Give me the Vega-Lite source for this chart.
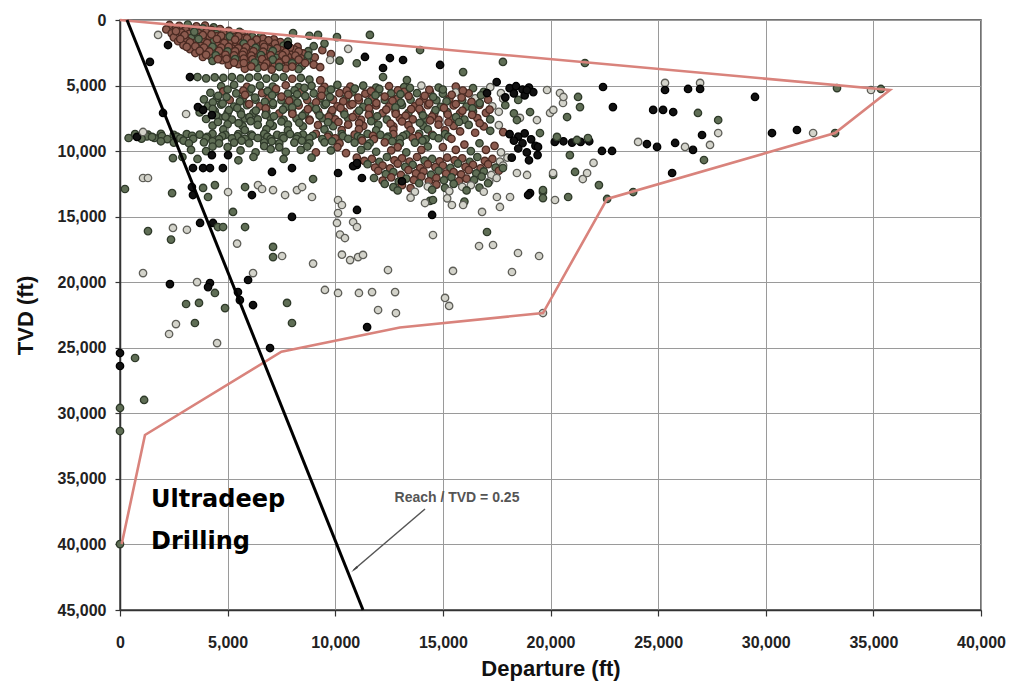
{
  "$schema": "https://vega.github.io/schema/vega-lite/v6.json",
  "width": 861,
  "height": 590,
  "autosize": {"type": "none"},
  "padding": {"left": 120, "top": 20, "right": 31, "bottom": 71},
  "background": "white",
  "config": {
    "view": {"stroke": "#444", "strokeWidth": 1.5},
    "axis": {
      "labelFont": "Liberation Sans", "labelFontWeight": "bold", "labelFontSize": 16, "labelColor": "#222",
      "titleFont": "Liberation Sans", "titleFontWeight": "bold", "titleFontSize": 22, "titleColor": "#111",
      "gridColor": "#9a9a9a", "gridWidth": 1, "gridOpacity": 1,
      "domainColor": "#333", "domainWidth": 1.5, "tickColor": "#333", "tickWidth": 1.2
    }
  },
  "datasets": {
    "pts": [
      {"x":2300,"y":380,"c":"r"},{"x":2750,"y":450,"c":"r"},{"x":3150,"y":350,"c":"g"},{"x":3550,"y":480,"c":"r"},{"x":3950,"y":420,"c":"r"},{"x":4350,"y":560,"c":"g"},
      {"x":2150,"y":720,"c":"r"},{"x":2600,"y":650,"c":"r"},{"x":3050,"y":780,"c":"r"},{"x":3400,"y":700,"c":"r"},{"x":3850,"y":640,"c":"g"},{"x":4250,"y":760,"c":"r"},{"x":4650,"y":690,"c":"r"},{"x":5050,"y":820,"c":"r"},{"x":5550,"y":900,"c":"g"},
      {"x":2400,"y":1020,"c":"r"},{"x":2850,"y":960,"c":"r"},{"x":3200,"y":1080,"c":"r"},{"x":3650,"y":1000,"c":"r"},{"x":4000,"y":940,"c":"r"},{"x":4450,"y":1050,"c":"g"},{"x":4800,"y":990,"c":"r"},{"x":5250,"y":1100,"c":"r"},{"x":5650,"y":1020,"c":"r"},{"x":6050,"y":1150,"c":"r"},{"x":6550,"y":1240,"c":"g"},
      {"x":2500,"y":1320,"c":"r"},{"x":2950,"y":1260,"c":"r"},{"x":3300,"y":1380,"c":"g"},{"x":3700,"y":1300,"c":"r"},{"x":4150,"y":1350,"c":"r"},{"x":4500,"y":1250,"c":"r"},{"x":4950,"y":1400,"c":"r"},{"x":5300,"y":1320,"c":"r"},{"x":5750,"y":1380,"c":"r"},{"x":6150,"y":1290,"c":"g"},{"x":6650,"y":1420,"c":"r"},{"x":7150,"y":1480,"c":"r"},
      {"x":2700,"y":1620,"c":"r"},{"x":3100,"y":1560,"c":"r"},{"x":3550,"y":1680,"c":"r"},{"x":3900,"y":1600,"c":"r"},{"x":4350,"y":1650,"c":"g"},{"x":4700,"y":1580,"c":"r"},{"x":5150,"y":1700,"c":"r"},{"x":5500,"y":1620,"c":"r"},{"x":5950,"y":1660,"c":"r"},{"x":6300,"y":1590,"c":"r"},{"x":6850,"y":1720,"c":"g"},{"x":7450,"y":1680,"c":"r"},
      {"x":2950,"y":1920,"c":"r"},{"x":3300,"y":1860,"c":"r"},{"x":3750,"y":1980,"c":"r"},{"x":4100,"y":1900,"c":"r"},{"x":4550,"y":1950,"c":"r"},{"x":4900,"y":1870,"c":"g"},{"x":5350,"y":2000,"c":"r"},{"x":5700,"y":1910,"c":"r"},{"x":6150,"y":1980,"c":"r"},{"x":6500,"y":1890,"c":"r"},{"x":7050,"y":2020,"c":"r"},{"x":7600,"y":1950,"c":"g"},{"x":8250,"y":2050,"c":"r"},
      {"x":3250,"y":2220,"c":"r"},{"x":3600,"y":2160,"c":"g"},{"x":4050,"y":2280,"c":"r"},{"x":4400,"y":2200,"c":"r"},{"x":4850,"y":2250,"c":"r"},{"x":5200,"y":2170,"c":"r"},{"x":5650,"y":2300,"c":"r"},{"x":6000,"y":2210,"c":"g"},{"x":6450,"y":2280,"c":"r"},{"x":6900,"y":2190,"c":"r"},{"x":7500,"y":2320,"c":"r"},{"x":8100,"y":2250,"c":"r"},{"x":8750,"y":2380,"c":"g"},
      {"x":3500,"y":2520,"c":"r"},{"x":3950,"y":2460,"c":"r"},{"x":4300,"y":2580,"c":"g"},{"x":4750,"y":2500,"c":"r"},{"x":5100,"y":2550,"c":"r"},{"x":5550,"y":2470,"c":"r"},{"x":5900,"y":2600,"c":"r"},{"x":6350,"y":2510,"c":"r"},{"x":6800,"y":2580,"c":"g"},{"x":7350,"y":2490,"c":"r"},{"x":7900,"y":2620,"c":"r"},{"x":8500,"y":2550,"c":"r"},
      {"x":3850,"y":2820,"c":"r"},{"x":4200,"y":2760,"c":"r"},{"x":4650,"y":2880,"c":"r"},{"x":5000,"y":2800,"c":"g"},{"x":5450,"y":2850,"c":"r"},{"x":5800,"y":2770,"c":"r"},{"x":6250,"y":2900,"c":"r"},{"x":6700,"y":2810,"c":"r"},{"x":7250,"y":2880,"c":"g"},{"x":7800,"y":2790,"c":"r"},{"x":8400,"y":2920,"c":"r"},{"x":9050,"y":2850,"c":"r"},
      {"x":4300,"y":3120,"c":"g"},{"x":4750,"y":3060,"c":"r"},{"x":5100,"y":3180,"c":"r"},{"x":5550,"y":3100,"c":"r"},{"x":5950,"y":3150,"c":"r"},{"x":6400,"y":3070,"c":"g"},{"x":6950,"y":3200,"c":"r"},{"x":7500,"y":3110,"c":"r"},{"x":8100,"y":3180,"c":"r"},{"x":8700,"y":3090,"c":"g"},
      {"x":5050,"y":3420,"c":"r"},{"x":5500,"y":3360,"c":"r"},{"x":6050,"y":3480,"c":"g"},{"x":6600,"y":3400,"c":"r"},{"x":7200,"y":3450,"c":"r"},{"x":7800,"y":3370,"c":"r"},{"x":8450,"y":3500,"c":"g"},
      {"x":5800,"y":3720,"c":"r"},{"x":6400,"y":3660,"c":"g"},{"x":7050,"y":3780,"c":"r"},{"x":7700,"y":3700,"c":"r"},{"x":8300,"y":3750,"c":"g"},
      {"x":2600,"y":850,"c":"r"},{"x":3000,"y":1150,"c":"r"},{"x":3450,"y":900,"c":"g"},{"x":3850,"y":1150,"c":"r"},{"x":4250,"y":1100,"c":"r"},{"x":4700,"y":1200,"c":"r"},{"x":5100,"y":1250,"c":"g"},{"x":5500,"y":1250,"c":"r"},{"x":5900,"y":1400,"c":"r"},{"x":6350,"y":1500,"c":"r"},{"x":6900,"y":1550,"c":"r"},
      {"x":2800,"y":1450,"c":"r"},{"x":3250,"y":1700,"c":"r"},{"x":3650,"y":1450,"c":"g"},{"x":4050,"y":1750,"c":"r"},{"x":4500,"y":1450,"c":"r"},{"x":4850,"y":1750,"c":"r"},{"x":5350,"y":1500,"c":"r"},{"x":5750,"y":1800,"c":"g"},{"x":6100,"y":1750,"c":"r"},{"x":6650,"y":1850,"c":"r"},{"x":7200,"y":1800,"c":"r"},{"x":7800,"y":1650,"c":"g"},
      {"x":3100,"y":2050,"c":"r"},{"x":3500,"y":2000,"c":"r"},{"x":3900,"y":2100,"c":"r"},{"x":4300,"y":2050,"c":"g"},{"x":4700,"y":2100,"c":"r"},{"x":5050,"y":2050,"c":"r"},{"x":5500,"y":2150,"c":"r"},{"x":5850,"y":2080,"c":"r"},{"x":6300,"y":2120,"c":"g"},{"x":6700,"y":2050,"c":"r"},{"x":7300,"y":2150,"c":"r"},{"x":7900,"y":2100,"c":"r"},
      {"x":3700,"y":2350,"c":"r"},{"x":4150,"y":2400,"c":"r"},{"x":4600,"y":2350,"c":"r"},{"x":5000,"y":2400,"c":"g"},{"x":5350,"y":2380,"c":"r"},{"x":5750,"y":2420,"c":"r"},{"x":6200,"y":2380,"c":"r"},{"x":6650,"y":2420,"c":"r"},{"x":7100,"y":2360,"c":"g"},{"x":7700,"y":2450,"c":"r"},{"x":8300,"y":2400,"c":"r"},
      {"x":4000,"y":2650,"c":"r"},{"x":4450,"y":2700,"c":"g"},{"x":4900,"y":2650,"c":"r"},{"x":5300,"y":2700,"c":"r"},{"x":5700,"y":2650,"c":"r"},{"x":6100,"y":2720,"c":"r"},{"x":6550,"y":2680,"c":"g"},{"x":7000,"y":2700,"c":"r"},{"x":7550,"y":2680,"c":"r"},{"x":8150,"y":2720,"c":"r"},{"x":8750,"y":2700,"c":"g"},
      {"x":4550,"y":2980,"c":"r"},{"x":4950,"y":2960,"c":"r"},{"x":5350,"y":2980,"c":"g"},{"x":5750,"y":2950,"c":"r"},{"x":6150,"y":3000,"c":"r"},{"x":6600,"y":2980,"c":"r"},{"x":7100,"y":3020,"c":"g"},{"x":7700,"y":2990,"c":"r"},{"x":8300,"y":3020,"c":"r"},
      {"x":5300,"y":3250,"c":"r"},{"x":5750,"y":3280,"c":"r"},{"x":6250,"y":3250,"c":"g"},{"x":6800,"y":3300,"c":"r"},{"x":7400,"y":3270,"c":"r"},{"x":8000,"y":3300,"c":"g"},{"x":8600,"y":3280,"c":"r"},
      {"x":6100,"y":3550,"c":"r"},{"x":6700,"y":3560,"c":"r"},{"x":7400,"y":3580,"c":"g"},{"x":8000,"y":3560,"c":"r"},{"x":9000,"y":3400,"c":"r"},{"x":9400,"y":2300,"c":"r"},{"x":9000,"y":2000,"c":"g"},
      {"x":9500,"y":1800,"c":"g"},{"x":9800,"y":2600,"c":"r"},{"x":10200,"y":3100,"c":"g"},{"x":9300,"y":3600,"c":"r"},{"x":10600,"y":2200,"c":"o"},{"x":11000,"y":3300,"c":"g"},{"x":8800,"y":1200,"c":"g"},
      {"x":3600,"y":4350,"c":"g"},{"x":4000,"y":4450,"c":"g"},{"x":4400,"y":4380,"c":"g"},{"x":4800,"y":4420,"c":"g"},{"x":5200,"y":4350,"c":"g"},{"x":5600,"y":4460,"c":"g"},{"x":6000,"y":4400,"c":"g"},{"x":6400,"y":4330,"c":"g"},{"x":6800,"y":4470,"c":"g"},{"x":7200,"y":4400,"c":"g"},{"x":7600,"y":4350,"c":"g"},{"x":8000,"y":4480,"c":"r"},{"x":8400,"y":4420,"c":"g"},{"x":8800,"y":4550,"c":"g"},{"x":9300,"y":4600,"c":"r"},
      {"x":4700,"y":5050,"c":"g"},{"x":5300,"y":4950,"c":"g"},{"x":5900,"y":5100,"c":"r"},{"x":6500,"y":5000,"c":"g"},{"x":7100,"y":5080,"c":"g"},{"x":7700,"y":4980,"c":"r"},{"x":8300,"y":5120,"c":"g"},{"x":8900,"y":5020,"c":"g"},{"x":9500,"y":5100,"c":"r"},{"x":10100,"y":4950,"c":"g"},{"x":10700,"y":5080,"c":"r"},{"x":11300,"y":5000,"c":"g"},{"x":11900,"y":5150,"c":"g"},{"x":12500,"y":5050,"c":"r"},{"x":13200,"y":5120,"c":"g"},{"x":14000,"y":5000,"c":"o"},{"x":14800,"y":5150,"c":"g"},{"x":15600,"y":5080,"c":"r"},{"x":16400,"y":5200,"c":"g"},{"x":17200,"y":5120,"c":"o"},
      {"x":4200,"y":5550,"c":"g"},{"x":4800,"y":5450,"c":"r"},{"x":5400,"y":5600,"c":"g"},{"x":6000,"y":5500,"c":"g"},{"x":6600,"y":5580,"c":"r"},{"x":7200,"y":5480,"c":"g"},{"x":7800,"y":5620,"c":"g"},{"x":8400,"y":5520,"c":"r"},{"x":9000,"y":5600,"c":"g"},{"x":9600,"y":5480,"c":"g"},{"x":10200,"y":5580,"c":"r"},{"x":10800,"y":5500,"c":"g"},{"x":11400,"y":5620,"c":"r"},{"x":12000,"y":5520,"c":"g"},{"x":12600,"y":5600,"c":"g"},{"x":13200,"y":5480,"c":"r"},{"x":13800,"y":5580,"c":"g"},{"x":14400,"y":5500,"c":"r"},{"x":15000,"y":5620,"c":"g"},{"x":15600,"y":5520,"c":"o"},{"x":16200,"y":5600,"c":"r"},{"x":16900,"y":5480,"c":"g"},{"x":17700,"y":5580,"c":"o"},
      {"x":3900,"y":6050,"c":"g"},{"x":4500,"y":5950,"c":"g"},{"x":5100,"y":6100,"c":"r"},{"x":5700,"y":6000,"c":"g"},{"x":6300,"y":6080,"c":"g"},{"x":6900,"y":5980,"c":"r"},{"x":7500,"y":6120,"c":"g"},{"x":8100,"y":6020,"c":"g"},{"x":8700,"y":6100,"c":"r"},{"x":9300,"y":5980,"c":"g"},{"x":9900,"y":6080,"c":"r"},{"x":10500,"y":6000,"c":"g"},{"x":11100,"y":6120,"c":"r"},{"x":11700,"y":6020,"c":"r"},{"x":12300,"y":6100,"c":"g"},{"x":12900,"y":5980,"c":"r"},{"x":13500,"y":6080,"c":"g"},{"x":14100,"y":6000,"c":"r"},{"x":14700,"y":6120,"c":"g"},{"x":15300,"y":6020,"c":"r"},{"x":15900,"y":6100,"c":"g"},{"x":16500,"y":5980,"c":"o"},{"x":17100,"y":6080,"c":"r"},{"x":17800,"y":6000,"c":"o"},{"x":18500,"y":6100,"c":"g"},
      {"x":4100,"y":6550,"c":"g"},{"x":4700,"y":6450,"c":"g"},{"x":5300,"y":6600,"c":"g"},{"x":5900,"y":6500,"c":"g"},{"x":6500,"y":6580,"c":"r"},{"x":7100,"y":6480,"c":"g"},{"x":7700,"y":6620,"c":"g"},{"x":8300,"y":6520,"c":"r"},{"x":8900,"y":6600,"c":"g"},{"x":9500,"y":6480,"c":"g"},{"x":10100,"y":6580,"c":"r"},{"x":10700,"y":6500,"c":"r"},{"x":11300,"y":6620,"c":"g"},{"x":11900,"y":6520,"c":"r"},{"x":12500,"y":6600,"c":"r"},{"x":13100,"y":6480,"c":"g"},{"x":13700,"y":6580,"c":"r"},{"x":14300,"y":6500,"c":"r"},{"x":14900,"y":6620,"c":"g"},{"x":15500,"y":6520,"c":"r"},{"x":16100,"y":6600,"c":"g"},{"x":16700,"y":6480,"c":"r"},{"x":17300,"y":6580,"c":"o"},{"x":17900,"y":6500,"c":"g"},
      {"x":3700,"y":7050,"c":"g"},{"x":4400,"y":6950,"c":"g"},{"x":5000,"y":7100,"c":"g"},{"x":5600,"y":7000,"c":"g"},{"x":6200,"y":7080,"c":"g"},{"x":6800,"y":6980,"c":"g"},{"x":7400,"y":7120,"c":"r"},{"x":8000,"y":7020,"c":"g"},{"x":8600,"y":7100,"c":"g"},{"x":9200,"y":6980,"c":"r"},{"x":9800,"y":7080,"c":"g"},{"x":10400,"y":7000,"c":"r"},{"x":11000,"y":7120,"c":"r"},{"x":11600,"y":7020,"c":"g"},{"x":12200,"y":7100,"c":"r"},{"x":12800,"y":6980,"c":"r"},{"x":13400,"y":7080,"c":"g"},{"x":14000,"y":7000,"c":"r"},{"x":14600,"y":7120,"c":"r"},{"x":15200,"y":7020,"c":"g"},{"x":15800,"y":7100,"c":"r"},{"x":16400,"y":6980,"c":"g"},{"x":17000,"y":7080,"c":"r"},{"x":17600,"y":7000,"c":"o"},{"x":18300,"y":7120,"c":"g"},
      {"x":4000,"y":7550,"c":"g"},{"x":4600,"y":7450,"c":"g"},{"x":5200,"y":7600,"c":"g"},{"x":5800,"y":7500,"c":"g"},{"x":6400,"y":7580,"c":"g"},{"x":7000,"y":7480,"c":"g"},{"x":7600,"y":7620,"c":"g"},{"x":8200,"y":7520,"c":"g"},{"x":8800,"y":7600,"c":"r"},{"x":9400,"y":7480,"c":"g"},{"x":10000,"y":7580,"c":"r"},{"x":10600,"y":7500,"c":"g"},{"x":11200,"y":7620,"c":"r"},{"x":11800,"y":7520,"c":"r"},{"x":12400,"y":7600,"c":"g"},{"x":13000,"y":7480,"c":"r"},{"x":13600,"y":7580,"c":"r"},{"x":14200,"y":7500,"c":"g"},{"x":14800,"y":7620,"c":"r"},{"x":15400,"y":7520,"c":"r"},{"x":16000,"y":7600,"c":"g"},{"x":16600,"y":7480,"c":"r"},{"x":17200,"y":7580,"c":"g"},
      {"x":4300,"y":8050,"c":"g"},{"x":5000,"y":7950,"c":"g"},{"x":5700,"y":8100,"c":"g"},{"x":6400,"y":8000,"c":"g"},{"x":7100,"y":8080,"c":"g"},{"x":7800,"y":7980,"c":"g"},{"x":8500,"y":8120,"c":"g"},{"x":9200,"y":8020,"c":"r"},{"x":9900,"y":8100,"c":"g"},{"x":10600,"y":7980,"c":"r"},{"x":11300,"y":8080,"c":"r"},{"x":12000,"y":8000,"c":"g"},{"x":12700,"y":8120,"c":"r"},{"x":13400,"y":8020,"c":"r"},{"x":14100,"y":8100,"c":"g"},{"x":14800,"y":7980,"c":"r"},{"x":15500,"y":8080,"c":"r"},{"x":16200,"y":8000,"c":"g"},{"x":16900,"y":8120,"c":"r"},{"x":17600,"y":8020,"c":"o"},
      {"x":5000,"y":5300,"c":"g"},{"x":5730,"y":5390,"c":"r"},{"x":6110,"y":5230,"c":"g"},{"x":6860,"y":5430,"c":"g"},{"x":7250,"y":5260,"c":"r"},{"x":8110,"y":5360,"c":"g"},{"x":8570,"y":5180,"c":"g"},{"x":9370,"y":5320,"c":"r"},{"x":9800,"y":5300,"c":"g"},{"x":10530,"y":5390,"c":"r"},{"x":10910,"y":5230,"c":"g"},{"x":11660,"y":5430,"c":"r"},{"x":12050,"y":5260,"c":"g"},{"x":12910,"y":5360,"c":"r"},{"x":13470,"y":5180,"c":"g"},{"x":14370,"y":5320,"c":"r"},{"x":15000,"y":5300,"c":"g"},{"x":15930,"y":5390,"c":"r"},
      {"x":4560,"y":5780,"c":"g"},{"x":4950,"y":5870,"c":"g"},{"x":5810,"y":5710,"c":"r"},{"x":6270,"y":5910,"c":"g"},{"x":7070,"y":5740,"c":"g"},{"x":7500,"y":5840,"c":"r"},{"x":8230,"y":5660,"c":"g"},{"x":8610,"y":5800,"c":"g"},{"x":9360,"y":5780,"c":"r"},{"x":9750,"y":5870,"c":"g"},{"x":10610,"y":5710,"c":"r"},{"x":11070,"y":5910,"c":"r"},{"x":11870,"y":5740,"c":"g"},{"x":12300,"y":5840,"c":"r"},{"x":13030,"y":5660,"c":"g"},{"x":13410,"y":5800,"c":"r"},{"x":14160,"y":5780,"c":"r"},{"x":14550,"y":5870,"c":"g"},{"x":15410,"y":5710,"c":"r"},{"x":15870,"y":5910,"c":"r"},{"x":16770,"y":5740,"c":"g"},
      {"x":4310,"y":6280,"c":"g"},{"x":4770,"y":6370,"c":"g"},{"x":5570,"y":6210,"c":"g"},{"x":6000,"y":6410,"c":"r"},{"x":6730,"y":6240,"c":"g"},{"x":7110,"y":6340,"c":"g"},{"x":7860,"y":6160,"c":"r"},{"x":8250,"y":6300,"c":"g"},{"x":9110,"y":6280,"c":"r"},{"x":9570,"y":6370,"c":"g"},{"x":10370,"y":6210,"c":"r"},{"x":10800,"y":6410,"c":"r"},{"x":11530,"y":6240,"c":"g"},{"x":11910,"y":6340,"c":"r"},{"x":12660,"y":6160,"c":"r"},{"x":13050,"y":6300,"c":"g"},{"x":13910,"y":6280,"c":"r"},{"x":14370,"y":6370,"c":"r"},{"x":15170,"y":6210,"c":"g"},{"x":15600,"y":6410,"c":"r"},{"x":16330,"y":6240,"c":"r"},{"x":16710,"y":6340,"c":"g"},
      {"x":4310,"y":6780,"c":"g"},{"x":5060,"y":6870,"c":"g"},{"x":5450,"y":6710,"c":"g"},{"x":6310,"y":6910,"c":"g"},{"x":6770,"y":6740,"c":"r"},{"x":7570,"y":6840,"c":"g"},{"x":8000,"y":6660,"c":"g"},{"x":8730,"y":6800,"c":"r"},{"x":9110,"y":6780,"c":"g"},{"x":9860,"y":6870,"c":"r"},{"x":10250,"y":6710,"c":"r"},{"x":11110,"y":6910,"c":"g"},{"x":11570,"y":6740,"c":"r"},{"x":12370,"y":6840,"c":"r"},{"x":12800,"y":6660,"c":"g"},{"x":13530,"y":6800,"c":"r"},{"x":13910,"y":6780,"c":"r"},{"x":14660,"y":6870,"c":"g"},{"x":15050,"y":6710,"c":"r"},{"x":15910,"y":6910,"c":"r"},{"x":16370,"y":6740,"c":"g"},{"x":17170,"y":6840,"c":"r"},
      {"x":4470,"y":7280,"c":"g"},{"x":4900,"y":7370,"c":"g"},{"x":5630,"y":7210,"c":"g"},{"x":6010,"y":7410,"c":"g"},{"x":6760,"y":7240,"c":"g"},{"x":7150,"y":7340,"c":"g"},{"x":8010,"y":7160,"c":"r"},{"x":8470,"y":7300,"c":"g"},{"x":9270,"y":7280,"c":"g"},{"x":9700,"y":7370,"c":"r"},{"x":10430,"y":7210,"c":"g"},{"x":10810,"y":7410,"c":"r"},{"x":11560,"y":7240,"c":"r"},{"x":11950,"y":7340,"c":"g"},{"x":12810,"y":7160,"c":"r"},{"x":13270,"y":7300,"c":"r"},{"x":14070,"y":7280,"c":"g"},{"x":14500,"y":7370,"c":"r"},{"x":15230,"y":7210,"c":"r"},{"x":15610,"y":7410,"c":"g"},{"x":16360,"y":7240,"c":"r"},
      {"x":4550,"y":7780,"c":"g"},{"x":5510,"y":7870,"c":"g"},{"x":6070,"y":7710,"c":"g"},{"x":6970,"y":7910,"c":"g"},{"x":7500,"y":7740,"c":"g"},{"x":8330,"y":7840,"c":"g"},{"x":8810,"y":7660,"c":"r"},{"x":9660,"y":7800,"c":"g"},{"x":10150,"y":7780,"c":"r"},{"x":11110,"y":7870,"c":"r"},{"x":11670,"y":7710,"c":"g"},{"x":12570,"y":7910,"c":"r"},{"x":13100,"y":7740,"c":"r"},{"x":13930,"y":7840,"c":"g"},{"x":14410,"y":7660,"c":"r"},{"x":15260,"y":7800,"c":"r"},{"x":15750,"y":7780,"c":"g"},{"x":16710,"y":7870,"c":"r"},
      {"x":9500,"y":8350,"c":"g"},{"x":10300,"y":8400,"c":"r"},{"x":11100,"y":8330,"c":"r"},{"x":11900,"y":8420,"c":"g"},{"x":12700,"y":8360,"c":"r"},{"x":13500,"y":8400,"c":"r"},{"x":14300,"y":8340,"c":"g"},{"x":15100,"y":8420,"c":"r"},{"x":4800,"y":8350,"c":"g"},{"x":5800,"y":8400,"c":"g"},{"x":6800,"y":8330,"c":"g"},{"x":7800,"y":8420,"c":"g"},
      {"x":700,"y":8700,"c":"g"},{"x":1300,"y":8750,"c":"g"},{"x":1900,"y":8680,"c":"g"},{"x":2500,"y":8760,"c":"g"},{"x":3100,"y":8700,"c":"g"},{"x":3700,"y":8740,"c":"g"},{"x":4300,"y":8680,"c":"g"},{"x":4900,"y":8760,"c":"g"},{"x":5500,"y":8700,"c":"g"},{"x":6100,"y":8740,"c":"g"},{"x":6700,"y":8680,"c":"g"},{"x":7300,"y":8760,"c":"g"},{"x":7900,"y":8700,"c":"g"},{"x":8500,"y":8740,"c":"g"},{"x":9100,"y":8680,"c":"r"},{"x":9700,"y":8760,"c":"g"},{"x":10300,"y":8700,"c":"g"},{"x":10900,"y":8740,"c":"r"},{"x":11500,"y":8680,"c":"g"},{"x":12100,"y":8760,"c":"g"},{"x":12700,"y":8700,"c":"r"},{"x":13300,"y":8740,"c":"g"},{"x":13900,"y":8680,"c":"g"},{"x":14500,"y":8760,"c":"r"},{"x":15100,"y":8700,"c":"g"},
      {"x":1250,"y":8880,"c":"g"},{"x":1950,"y":8850,"c":"g"},{"x":2650,"y":8900,"c":"g"},{"x":3350,"y":8830,"c":"g"},{"x":4050,"y":8910,"c":"g"},{"x":4750,"y":8860,"c":"g"},{"x":5450,"y":8880,"c":"g"},{"x":6150,"y":8840,"c":"g"},{"x":6850,"y":8900,"c":"g"},{"x":7550,"y":8850,"c":"g"},{"x":8250,"y":8880,"c":"g"},{"x":8950,"y":8830,"c":"g"},{"x":9650,"y":8910,"c":"r"},{"x":10350,"y":8860,"c":"g"},{"x":11050,"y":8880,"c":"g"},{"x":11750,"y":8840,"c":"r"},{"x":12450,"y":8900,"c":"g"},{"x":13150,"y":8850,"c":"g"},{"x":13850,"y":8880,"c":"r"},{"x":14550,"y":8830,"c":"g"},{"x":15250,"y":8900,"c":"g"},
      {"x":1000,"y":9050,"c":"g"},{"x":1600,"y":9000,"c":"g"},{"x":2200,"y":9080,"c":"g"},{"x":2800,"y":9020,"c":"g"},{"x":3400,"y":9060,"c":"g"},{"x":4000,"y":9000,"c":"g"},{"x":4600,"y":9080,"c":"g"},{"x":5200,"y":9020,"c":"g"},{"x":5800,"y":9060,"c":"g"},{"x":6400,"y":9000,"c":"g"},{"x":7000,"y":9080,"c":"g"},{"x":7600,"y":9020,"c":"g"},{"x":8200,"y":9060,"c":"g"},{"x":8800,"y":9000,"c":"g"},{"x":9400,"y":9080,"c":"g"},{"x":10000,"y":9020,"c":"r"},{"x":10600,"y":9060,"c":"g"},{"x":11200,"y":9000,"c":"g"},{"x":11800,"y":9080,"c":"r"},{"x":12400,"y":9020,"c":"g"},{"x":13000,"y":9060,"c":"g"},{"x":13600,"y":9000,"c":"r"},{"x":14200,"y":9080,"c":"g"},{"x":14800,"y":9020,"c":"g"},{"x":15400,"y":9060,"c":"r"},
      {"x":400,"y":9000,"c":"g"},{"x":1900,"y":9250,"c":"g"},{"x":2950,"y":9200,"c":"g"},{"x":4300,"y":9250,"c":"g"},{"x":5650,"y":9200,"c":"g"},{"x":7050,"y":9250,"c":"g"},{"x":8450,"y":9200,"c":"g"},{"x":9850,"y":9250,"c":"g"},{"x":11250,"y":9200,"c":"r"},{"x":12650,"y":9250,"c":"g"},{"x":14050,"y":9200,"c":"g"},
      {"x":2500,"y":9350,"c":"g"},{"x":3200,"y":9400,"c":"g"},{"x":3900,"y":9330,"c":"g"},{"x":4600,"y":9410,"c":"g"},{"x":5300,"y":9350,"c":"g"},{"x":6000,"y":9400,"c":"g"},{"x":6700,"y":9330,"c":"g"},{"x":7400,"y":9410,"c":"g"},{"x":8100,"y":9350,"c":"g"},{"x":8800,"y":9400,"c":"g"},{"x":9500,"y":9330,"c":"g"},{"x":10200,"y":9410,"c":"r"},{"x":10900,"y":9350,"c":"g"},{"x":11600,"y":9400,"c":"g"},{"x":12300,"y":9330,"c":"r"},{"x":13000,"y":9410,"c":"g"},{"x":13700,"y":9350,"c":"g"},
      {"x":4300,"y":9650,"c":"g"},{"x":5000,"y":9700,"c":"g"},{"x":6700,"y":9620,"c":"g"},{"x":7400,"y":9700,"c":"g"},{"x":8700,"y":9650,"c":"g"},{"x":10100,"y":9700,"c":"r"},{"x":11500,"y":9620,"c":"g"},{"x":12900,"y":9700,"c":"r"},{"x":14300,"y":9650,"c":"g"},{"x":15000,"y":9700,"c":"r"},
      {"x":3300,"y":9900,"c":"g"},{"x":4000,"y":10000,"c":"g"},{"x":5600,"y":9950,"c":"g"},{"x":6300,"y":10100,"c":"g"},{"x":7000,"y":9850,"c":"g"},{"x":7700,"y":10050,"c":"g"},{"x":8400,"y":9900,"c":"g"},{"x":9100,"y":10100,"c":"r"},{"x":9800,"y":9950,"c":"g"},{"x":10500,"y":10150,"c":"r"},{"x":11200,"y":9900,"c":"g"},{"x":11900,"y":10050,"c":"g"},{"x":12600,"y":9950,"c":"r"},{"x":13300,"y":10100,"c":"g"},{"x":14000,"y":9900,"c":"r"},{"x":2900,"y":10450,"c":"g"},{"x":3600,"y":10600,"c":"g"},{"x":5500,"y":10700,"c":"g"},{"x":6200,"y":10450,"c":"g"},{"x":7600,"y":10600,"c":"g"},{"x":8900,"y":10500,"c":"g"},
      {"x":11000,"y":10500,"c":"r"},{"x":11700,"y":10600,"c":"r"},{"x":12400,"y":10450,"c":"g"},{"x":13100,"y":10550,"c":"r"},{"x":13800,"y":10450,"c":"r"},{"x":14500,"y":10600,"c":"g"},{"x":15200,"y":10500,"c":"r"},{"x":15900,"y":10550,"c":"r"},{"x":16600,"y":10450,"c":"g"},{"x":17300,"y":10600,"c":"r"},{"x":18000,"y":10500,"c":"o"},
      {"x":11350,"y":10750,"c":"r"},{"x":12050,"y":10820,"c":"g"},{"x":12750,"y":10700,"c":"r"},{"x":13450,"y":10800,"c":"r"},{"x":14150,"y":10720,"c":"g"},{"x":14850,"y":10780,"c":"r"},{"x":15550,"y":10700,"c":"r"},{"x":16250,"y":10820,"c":"g"},{"x":16950,"y":10750,"c":"r"},{"x":17650,"y":10800,"c":"o"},
      {"x":11500,"y":11000,"c":"g"},{"x":12200,"y":11100,"c":"r"},{"x":12900,"y":10950,"c":"r"},{"x":13600,"y":11050,"c":"g"},{"x":14300,"y":11000,"c":"r"},{"x":15000,"y":11100,"c":"r"},{"x":15700,"y":10950,"c":"g"},{"x":16400,"y":11050,"c":"r"},{"x":17100,"y":11000,"c":"r"},{"x":17800,"y":11100,"c":"o"},
      {"x":11850,"y":11250,"c":"r"},{"x":12550,"y":11320,"c":"r"},{"x":13250,"y":11200,"c":"g"},{"x":13950,"y":11300,"c":"r"},{"x":14650,"y":11220,"c":"r"},{"x":15350,"y":11280,"c":"g"},{"x":16050,"y":11200,"c":"r"},{"x":16750,"y":11320,"c":"r"},{"x":17450,"y":11250,"c":"g"},
      {"x":12000,"y":11500,"c":"r"},{"x":12700,"y":11600,"c":"g"},{"x":13400,"y":11450,"c":"r"},{"x":14100,"y":11550,"c":"r"},{"x":14800,"y":11500,"c":"g"},{"x":15500,"y":11600,"c":"r"},{"x":16200,"y":11450,"c":"r"},{"x":16900,"y":11550,"c":"g"},{"x":17600,"y":11500,"c":"r"},
      {"x":12350,"y":11750,"c":"g"},{"x":13050,"y":11820,"c":"r"},{"x":13750,"y":11700,"c":"r"},{"x":14450,"y":11800,"c":"g"},{"x":15150,"y":11720,"c":"r"},{"x":15850,"y":11780,"c":"r"},{"x":16550,"y":11700,"c":"g"},{"x":17250,"y":11820,"c":"o"},
      {"x":11800,"y":12050,"c":"g"},{"x":12600,"y":12000,"c":"r"},{"x":13300,"y":12100,"c":"g"},{"x":14000,"y":11950,"c":"r"},{"x":14700,"y":12050,"c":"r"},{"x":15400,"y":12000,"c":"g"},{"x":16100,"y":12100,"c":"r"},{"x":16800,"y":11950,"c":"g"},{"x":17500,"y":12050,"c":"o"},
      {"x":12200,"y":12250,"c":"r"},{"x":12950,"y":12320,"c":"g"},{"x":13650,"y":12200,"c":"r"},{"x":14350,"y":12300,"c":"r"},{"x":15050,"y":12220,"c":"g"},{"x":15750,"y":12280,"c":"r"},{"x":16450,"y":12200,"c":"g"},{"x":17150,"y":12320,"c":"o"},
      {"x":12300,"y":12500,"c":"g"},{"x":13100,"y":12600,"c":"r"},{"x":13900,"y":12450,"c":"g"},{"x":14700,"y":12550,"c":"r"},{"x":15500,"y":12500,"c":"g"},{"x":16300,"y":12600,"c":"o"},{"x":17100,"y":12450,"c":"g"},
      {"x":12700,"y":12750,"c":"g"},{"x":13500,"y":12820,"c":"r"},{"x":14300,"y":12700,"c":"o"},{"x":15100,"y":12800,"c":"g"},{"x":15900,"y":12720,"c":"o"},{"x":16700,"y":12780,"c":"g"},
      {"x":12900,"y":13000,"c":"g"},{"x":13700,"y":13100,"c":"o"},{"x":14500,"y":12950,"c":"g"},{"x":15300,"y":13050,"c":"o"},{"x":16100,"y":13000,"c":"g"},{"x":16900,"y":13100,"c":"o"},
      {"x":13500,"y":13550,"c":"o"},{"x":14400,"y":13800,"c":"g"},{"x":15200,"y":13600,"c":"o"},{"x":16000,"y":13850,"c":"g"},
      {"x":15800,"y":8500,"c":"r"},{"x":16500,"y":8600,"c":"r"},{"x":17200,"y":8450,"c":"g"},{"x":17800,"y":8550,"c":"r"},{"x":16000,"y":9500,"c":"r"},{"x":16700,"y":9400,"c":"g"},{"x":17400,"y":9600,"c":"r"},{"x":15600,"y":9900,"c":"r"},{"x":16300,"y":10000,"c":"g"},{"x":17000,"y":9900,"c":"r"},{"x":17700,"y":10100,"c":"o"},
      {"x":18100,"y":5200,"c":"k"},{"x":18400,"y":5050,"c":"k"},{"x":18700,"y":5300,"c":"k"},{"x":19000,"y":5150,"c":"k"},{"x":18300,"y":5600,"c":"k"},{"x":18800,"y":5750,"c":"k"},{"x":19200,"y":5500,"c":"k"},{"x":17900,"y":5900,"c":"k"},
      {"x":18100,"y":8700,"c":"k"},{"x":18500,"y":8900,"c":"k"},{"x":18800,"y":8650,"c":"k"},{"x":18300,"y":9200,"c":"k"},{"x":18700,"y":9400,"c":"k"},{"x":19100,"y":9100,"c":"k"},{"x":18500,"y":9800,"c":"k"},{"x":18900,"y":10100,"c":"k"},{"x":19300,"y":9600,"c":"k"},{"x":18200,"y":10500,"c":"k"},{"x":19000,"y":10700,"c":"k"},{"x":19400,"y":10300,"c":"k"},
      {"x":20200,"y":9300,"c":"k"},{"x":20600,"y":9250,"c":"k"},{"x":21000,"y":9350,"c":"k"},{"x":21400,"y":9300,"c":"k"},{"x":21800,"y":9250,"c":"k"},
      {"x":17790,"y":3200,"c":"g"},{"x":21600,"y":3280,"c":"g"},{"x":25320,"y":4800,"c":"o"},{"x":25320,"y":5340,"c":"k"},{"x":26390,"y":5260,"c":"k"},{"x":26950,"y":4800,"c":"o"},{"x":26950,"y":5260,"c":"k"},{"x":22440,"y":5110,"c":"k"},{"x":29500,"y":5870,"c":"k"},{"x":33310,"y":5190,"c":"g"},{"x":34890,"y":5340,"c":"o"},{"x":35350,"y":5260,"c":"g"},
      {"x":22900,"y":6640,"c":"k"},{"x":24770,"y":6860,"c":"k"},{"x":25230,"y":6860,"c":"k"},{"x":25700,"y":7020,"c":"k"},{"x":26850,"y":7090,"c":"g"},{"x":27790,"y":7630,"c":"g"},{"x":27790,"y":8620,"c":"o"},{"x":27040,"y":8770,"c":"k"},{"x":27410,"y":9530,"c":"o"},{"x":27130,"y":10680,"c":"g"},{"x":30290,"y":8620,"c":"k"},{"x":31450,"y":8390,"c":"k"},{"x":32200,"y":8620,"c":"o"},{"x":33220,"y":8620,"c":"g"},
      {"x":24070,"y":9300,"c":"o"},{"x":24480,"y":9460,"c":"k"},{"x":24950,"y":9680,"c":"k"},{"x":25790,"y":9380,"c":"k"},{"x":26250,"y":9680,"c":"o"},{"x":26620,"y":9910,"c":"k"},{"x":22390,"y":9990,"c":"k"},{"x":22860,"y":9990,"c":"k"},{"x":25650,"y":11670,"c":"k"},{"x":23840,"y":13120,"c":"g"},{"x":22630,"y":13650,"c":"g"},{"x":22250,"y":12590,"c":"g"},{"x":21700,"y":11670,"c":"o"},{"x":21140,"y":11590,"c":"g"},{"x":20120,"y":11820,"c":"g"},{"x":20820,"y":13500,"c":"g"},{"x":20210,"y":13730,"c":"o"},{"x":19650,"y":13120,"c":"g"},{"x":19050,"y":13200,"c":"k"},
      {"x":21370,"y":6640,"c":"g"},{"x":20770,"y":7400,"c":"g"},{"x":21280,"y":5870,"c":"g"},{"x":20580,"y":6330,"c":"o"},{"x":19980,"y":7090,"c":"o"},{"x":19370,"y":7630,"c":"o"},{"x":18580,"y":7470,"c":"o"},{"x":19840,"y":5340,"c":"o"},{"x":20440,"y":5570,"c":"o"},{"x":19050,"y":7020,"c":"g"},{"x":19510,"y":8620,"c":"g"},{"x":20300,"y":8920,"c":"g"},{"x":21230,"y":9150,"c":"g"},{"x":21740,"y":9000,"c":"g"},{"x":19420,"y":9680,"c":"k"},{"x":20900,"y":10300,"c":"g"},{"x":22000,"y":10900,"c":"o"},{"x":20600,"y":5870,"c":"o"},{"x":20130,"y":6860,"c":"o"},{"x":18440,"y":7630,"c":"g"},{"x":21500,"y":12130,"c":"o"},
      {"x":16820,"y":14640,"c":"o"},{"x":17650,"y":14260,"c":"o"},{"x":15420,"y":14110,"c":"o"},{"x":15940,"y":14110,"c":"o"},{"x":14170,"y":13960,"c":"o"},{"x":14540,"y":13730,"c":"g"},{"x":17510,"y":13500,"c":"o"},{"x":18120,"y":13500,"c":"o"},{"x":19650,"y":13580,"c":"g"},{"x":20120,"y":11670,"c":"o"},{"x":18440,"y":11670,"c":"o"},{"x":18910,"y":11820,"c":"o"},{"x":17790,"y":11290,"c":"g"},{"x":19650,"y":12970,"c":"g"},{"x":14500,"y":14870,"c":"k"},{"x":18960,"y":13350,"c":"k"},
      {"x":1770,"y":1140,"c":"o"},{"x":2230,"y":1910,"c":"k"},{"x":1390,"y":3200,"c":"k"},{"x":3250,"y":4350,"c":"k"},{"x":2000,"y":7090,"c":"k"},{"x":3070,"y":7170,"c":"o"},{"x":3620,"y":6640,"c":"k"},{"x":3860,"y":6860,"c":"k"},{"x":4270,"y":7250,"c":"k"},{"x":790,"y":8920,"c":"k"},{"x":1070,"y":8540,"c":"o"},{"x":1490,"y":8920,"c":"g"},{"x":2460,"y":10530,"c":"g"},
      {"x":8040,"y":1000,"c":"g"},{"x":9200,"y":1140,"c":"g"},{"x":10080,"y":1300,"c":"g"},{"x":11610,"y":1140,"c":"g"},{"x":13940,"y":2290,"c":"g"},{"x":7800,"y":1910,"c":"k"},{"x":11380,"y":2820,"c":"k"},{"x":12540,"y":2900,"c":"k"},{"x":13150,"y":3050,"c":"k"},{"x":14870,"y":3430,"c":"k"},{"x":15940,"y":3970,"c":"g"},{"x":12220,"y":3660,"c":"k"},{"x":17500,"y":4730,"c":"k"},{"x":12220,"y":4350,"c":"g"},{"x":13330,"y":4580,"c":"g"},{"x":9760,"y":3050,"c":"o"},{"x":17050,"y":5570,"c":"k"},{"x":18900,"y":5340,"c":"k"},
      {"x":11000,"y":11060,"c":"k"},{"x":13100,"y":12300,"c":"k"},{"x":10830,"y":11140,"c":"k"},
      {"x":1070,"y":12050,"c":"o"},{"x":1300,"y":12050,"c":"o"},{"x":230,"y":12890,"c":"g"},{"x":2420,"y":13200,"c":"g"},{"x":4410,"y":12590,"c":"g"},{"x":3860,"y":12810,"c":"g"},{"x":4090,"y":13500,"c":"g"},{"x":5020,"y":13120,"c":"o"},{"x":5810,"y":12740,"c":"g"},{"x":6410,"y":12590,"c":"o"},{"x":6600,"y":12890,"c":"o"},{"x":6130,"y":13350,"c":"k"},{"x":7670,"y":13350,"c":"o"},{"x":8220,"y":12970,"c":"o"},{"x":8460,"y":12740,"c":"o"},{"x":8920,"y":13500,"c":"o"},{"x":8970,"y":12130,"c":"g"},{"x":3390,"y":13350,"c":"k"},{"x":3340,"y":12740,"c":"k"},{"x":7110,"y":12970,"c":"o"},
      {"x":3390,"y":11290,"c":"k"},{"x":3860,"y":11290,"c":"k"},{"x":4180,"y":11290,"c":"k"},{"x":4780,"y":11290,"c":"k"},{"x":4270,"y":10300,"c":"k"},{"x":5020,"y":10300,"c":"k"},{"x":7060,"y":11590,"c":"k"},{"x":7990,"y":11290,"c":"k"},{"x":11010,"y":10910,"c":"k"},{"x":10130,"y":11670,"c":"k"},{"x":11240,"y":12050,"c":"k"},
      {"x":5250,"y":14640,"c":"g"},{"x":7990,"y":15020,"c":"k"},{"x":4320,"y":15480,"c":"k"},{"x":4550,"y":15790,"c":"g"},{"x":4790,"y":15790,"c":"g"},{"x":5810,"y":15790,"c":"g"},{"x":3720,"y":15480,"c":"k"},
      {"x":10130,"y":13730,"c":"o"},{"x":10310,"y":14110,"c":"o"},{"x":10130,"y":14720,"c":"o"},{"x":10080,"y":15480,"c":"o"},{"x":10830,"y":15410,"c":"o"},{"x":11010,"y":15790,"c":"o"},{"x":11010,"y":14490,"c":"k"},
      {"x":1300,"y":16100,"c":"g"},{"x":2460,"y":15860,"c":"o"},{"x":3110,"y":16000,"c":"o"},{"x":2370,"y":16750,"c":"g"},{"x":5440,"y":17050,"c":"o"},{"x":7110,"y":17310,"c":"g"},{"x":7110,"y":18080,"c":"g"},{"x":7530,"y":18000,"c":"o"},{"x":8970,"y":18580,"c":"o"},{"x":10220,"y":16360,"c":"o"},{"x":10450,"y":16630,"c":"o"},{"x":10310,"y":17900,"c":"o"},{"x":10690,"y":18310,"c":"o"},{"x":11060,"y":18080,"c":"o"},{"x":11290,"y":17920,"c":"o"},{"x":12450,"y":19070,"c":"o"},
      {"x":1070,"y":19300,"c":"o"},{"x":2320,"y":20140,"c":"k"},{"x":3580,"y":19990,"c":"o"},{"x":4180,"y":20060,"c":"k"},{"x":6180,"y":19300,"c":"o"},{"x":5950,"y":19830,"c":"k"},{"x":4090,"y":20370,"c":"k"},{"x":4410,"y":20820,"c":"g"},{"x":5480,"y":20750,"c":"k"},{"x":5570,"y":21360,"c":"k"},{"x":6180,"y":21740,"c":"k"},{"x":4880,"y":21970,"c":"g"},{"x":3070,"y":21660,"c":"g"},{"x":3670,"y":21580,"c":"g"},{"x":2600,"y":23190,"c":"o"},{"x":2280,"y":23950,"c":"o"},{"x":3480,"y":23110,"c":"g"},{"x":4510,"y":24640,"c":"o"},{"x":6970,"y":25020,"c":"k"},{"x":7760,"y":21580,"c":"g"},{"x":7990,"y":23110,"c":"g"},
      {"x":9520,"y":20590,"c":"o"},{"x":10130,"y":20820,"c":"o"},{"x":11100,"y":20820,"c":"o"},{"x":11710,"y":20750,"c":"o"},{"x":12780,"y":20750,"c":"o"},{"x":11990,"y":22120,"c":"o"},{"x":12820,"y":22350,"c":"o"},{"x":11480,"y":23420,"c":"k"},
      {"x":0,"y":25400,"c":"k"},{"x":0,"y":26390,"c":"k"},{"x":700,"y":25780,"c":"g"},{"x":0,"y":29590,"c":"g"},{"x":0,"y":31350,"c":"g"},{"x":1120,"y":28980,"c":"g"},{"x":0,"y":39970,"c":"g"},
      {"x":14540,"y":16400,"c":"o"},{"x":17050,"y":16170,"c":"g"},{"x":16680,"y":17240,"c":"o"},{"x":17330,"y":17160,"c":"o"},{"x":18490,"y":17770,"c":"o"},{"x":19470,"y":18000,"c":"o"},{"x":15470,"y":19140,"c":"o"},{"x":18210,"y":19220,"c":"o"},{"x":15100,"y":21200,"c":"o"},{"x":15290,"y":21810,"c":"o"},{"x":19650,"y":22350,"c":"o"}
    ],
    "bound": [
      {"x":0,"y":0,"i":0},{"x":35770,"y":5340,"i":1},{"x":33220,"y":8620,"i":2},{"x":22630,"y":13650,"i":3},{"x":19650,"y":22350,"i":4},{"x":13000,"y":23450,"i":5},{"x":7500,"y":25300,"i":6},{"x":1160,"y":31650,"i":7},{"x":80,"y":39970,"i":8}
    ],
    "ref": [{"x":325,"y":0},{"x":11290,"y":45000}],
    "arrow": [{"x":14170,"y":37300},{"x":10850,"y":41950}],
    "head": [{"x":10930,"y":41850}],
    "label1": [{"x":1440,"y":36610,"t":"Ultradeep"},{"x":1440,"y":39813,"t":"Drilling"}],
    "label2": [{"x":15656,"y":36458,"t":"Reach / TVD = 0.25"}]
  },
  "encoding": {
    "x": {"field": "x", "type": "quantitative",
      "scale": {"domain": [0, 40000], "nice": false, "zero": false},
      "axis": {"title": "Departure (ft)", "values": [0,5000,10000,15000,20000,25000,30000,35000,40000], "format": ",.0f", "tickSize": 6, "labelPadding": 18, "titlePadding": 8, "labelFlush": false}},
    "y": {"field": "y", "type": "quantitative",
      "scale": {"domain": [0, 45000], "nice": false, "zero": false, "reverse": true},
      "axis": {"title": "TVD (ft)", "values": [0,5000,10000,15000,20000,25000,30000,35000,40000,45000], "format": ",.0f", "tickSize": 5, "labelPadding": 9, "titlePadding": 20, "labelFlush": false}}
  },
  "layer": [
    {
      "data": {"name": "pts"},
      "mark": {"type": "point", "shape": "circle", "filled": true, "size": 55, "strokeWidth": 1.3, "opacity": 1},
      "encoding": {
        "fill": {"field": "c", "type": "nominal", "legend": null,
          "scale": {"domain": ["r","g","k","o"], "range": ["#8b5a4e","#5f6e55","#111111","#d3d3ca"]}},
        "stroke": {"field": "c", "type": "nominal", "legend": null,
          "scale": {"domain": ["r","g","k","o"], "range": ["#4a2a22","#2f3a2a","#000000","#5e5e58"]}}
      }
    },
    {
      "data": {"name": "bound"},
      "mark": {"type": "line", "color": "#d9837c", "strokeWidth": 2.6},
      "encoding": {"order": {"field": "i", "type": "quantitative"}}
    },
    {
      "data": {"name": "ref"},
      "mark": {"type": "line", "color": "#000000", "strokeWidth": 3},
      "encoding": {}
    },
    {
      "data": {"name": "arrow"},
      "mark": {"type": "line", "color": "#555555", "strokeWidth": 1.5},
      "encoding": {}
    },
    {
      "data": {"name": "head"},
      "mark": {"type": "point", "shape": "wedge", "filled": true, "size": 90, "angle": 229, "color": "#444444", "opacity": 1},
      "encoding": {}
    },
    {
      "data": {"name": "label1"},
      "mark": {"type": "text", "align": "left", "baseline": "middle", "font": "DejaVu Sans", "fontWeight": "bold", "fontSize": 24, "color": "#000000"},
      "encoding": {"text": {"field": "t"}}
    },
    {
      "data": {"name": "label2"},
      "mark": {"type": "text", "align": "center", "baseline": "middle", "font": "Liberation Sans", "fontWeight": "bold", "fontSize": 14, "color": "#555555"},
      "encoding": {"text": {"field": "t"}}
    }
  ]
}
